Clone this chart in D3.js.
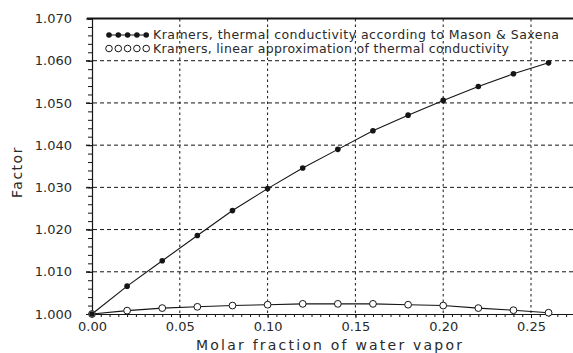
<!DOCTYPE html>
<html><head><meta charset="utf-8">
<script src="https://cdn.jsdelivr.net/npm/d3@7"></script>
<style>
html,body{margin:0;padding:0;background:#fff;}
svg{display:block;}
text{font-family:"DejaVu Sans",sans-serif;fill:#2a2a2a;}
</style></head>
<body><svg id="chart" width="573" height="353"></svg>
<script>
const xValues = [0.00,0.02,0.04,0.06,0.08,0.10,0.12,0.14,0.16,0.18,0.20,0.22,0.24,0.26];
const masonSaxena = [1.0000,1.0066,1.0126,1.0186,1.0245,1.0297,1.0346,1.0390,1.0434,1.0471,1.0506,1.0539,1.0569,1.0595];
const linearApprox = [1.0000,1.0008,1.0014,1.0017,1.0020,1.0022,1.0024,1.0024,1.0024,1.0022,1.0020,1.0014,1.0009,1.0003];
const xTicks = [0.00,0.05,0.10,0.15,0.20,0.25];
const yTicks = [1.000,1.010,1.020,1.030,1.040,1.050,1.060,1.070];
const seriesNames = ["Kramers, thermal conductivity according to Mason & Saxena",
                     "Kramers, linear approximation of thermal conductivity"];
const xTitle = "Molar fraction of water vapor";
const yTitle = "Factor";

const svg = d3.select("#chart");
const x = d3.scaleLinear().domain([0, 0.28]).range([92, 92 + 0.28*1756]);
const y = d3.scaleLinear().domain([1.000, 1.070]).range([314, 18.5]);
const ink = "#151515";

// grid
svg.append("g").selectAll("line").data(yTicks.slice(1,-1)).join("line")
  .attr("x1", 86).attr("x2", 573).attr("y1", d=>y(d)).attr("y2", d=>y(d))
  .attr("stroke", ink).attr("stroke-width", 1).attr("stroke-dasharray","4,3");
svg.append("g").selectAll("line").data(xTicks.slice(1)).join("line")
  .attr("x1", d=>x(d)).attr("x2", d=>x(d)).attr("y1", 19).attr("y2", 314)
  .attr("stroke", ink).attr("stroke-width", 1).attr("stroke-dasharray","2.5,3");

// y axis minor + major
const yAx = d3.axisLeft(y).tickValues(d3.range(1.000, 1.0701, 0.002)).tickSize(4).tickFormat("");
const gy = svg.append("g").attr("transform","translate(92,0)").call(yAx);
gy.selectAll("line").attr("stroke", ink);
gy.select(".domain").attr("stroke", ink).attr("stroke-width",1.2);
const gyM = svg.append("g").attr("transform","translate(92,0)")
  .call(d3.axisLeft(y).tickValues(yTicks).tickSize(6).tickPadding(14).tickFormat(d3.format(".3f")));
gyM.select(".domain").remove();
gyM.selectAll("line").attr("stroke", ink);
gyM.selectAll("text").attr("font-size", 13).style("font-family","DejaVu Sans, sans-serif").attr("fill","#2a2a2a");

// x axis
const gx = svg.append("g").attr("transform","translate(0,314)")
  .call(d3.axisBottom(x).tickValues(d3.range(0, 0.2801, 0.005)).tickSize(3).tickFormat(""));
gx.selectAll("line").attr("stroke", ink);
gx.select(".domain").attr("stroke", ink).attr("stroke-width",1.2);
const gxM = svg.append("g").attr("transform","translate(0,314)")
  .call(d3.axisBottom(x).tickValues(xTicks).tickSize(4).tickPadding(4).tickFormat(d3.format(".2f")));
gxM.select(".domain").remove();
gxM.selectAll("line").attr("stroke", ink);
gxM.selectAll("text").attr("font-size", 13).style("font-family","DejaVu Sans, sans-serif").attr("fill","#2a2a2a");

// top border
svg.append("line").attr("x1", 87).attr("x2", 573).attr("y1", y(1.070)).attr("y2", y(1.070))
  .attr("stroke", ink).attr("stroke-width", 1.8);

// series
const line = d3.line().x((d,i)=>x(xValues[i])).y(d=>y(d));
svg.append("path").datum(linearApprox).attr("d", line).attr("fill","none").attr("stroke",ink).attr("stroke-width",1.1);
svg.append("path").datum(masonSaxena).attr("d", line).attr("fill","none").attr("stroke",ink).attr("stroke-width",1.1);
svg.append("g").selectAll("circle").data(linearApprox).join("circle")
  .attr("cx",(d,i)=>x(xValues[i])).attr("cy",d=>y(d)).attr("r",3.4)
  .attr("fill","#fff").attr("stroke",ink).attr("stroke-width",1);
svg.append("g").selectAll("circle").data(masonSaxena).join("circle")
  .attr("cx",(d,i)=>x(xValues[i])).attr("cy",d=>y(d)).attr("r",2.8).attr("fill",ink);

// legend
const legY = [35, 48.5];
const legDots = d3.range(5).map(i => 109 + i*9.3);
const leg0 = svg.append("g");
leg0.append("line").attr("x1",109).attr("x2",146).attr("y1",legY[0]).attr("y2",legY[0]).attr("stroke",ink);
leg0.selectAll("circle").data(legDots).join("circle").attr("cx",d=>d).attr("cy",legY[0]).attr("r",2.8).attr("fill",ink);
const leg1 = svg.append("g");
leg1.selectAll("circle").data(legDots).join("circle").attr("cx",d=>d).attr("cy",legY[1]).attr("r",3.3)
  .attr("fill","none").attr("stroke",ink).attr("stroke-width",1);
const legLens = [406, 356];
seriesNames.forEach((s,i)=>{
  svg.append("text").attr("x",153).attr("y",legY[i]+4.3).attr("font-size",12.5)
    .attr("textLength", legLens[i]).attr("lengthAdjust","spacing").text(s);
});

// axis titles
svg.append("text").attr("x",196).attr("y",350).attr("font-size",14)
  .attr("textLength",266).attr("lengthAdjust","spacing").text(xTitle);
svg.append("text").attr("transform","translate(22,172) rotate(-90)").attr("text-anchor","middle")
  .attr("font-size",14).attr("letter-spacing",1.5).text(yTitle);
</script></body></html>
